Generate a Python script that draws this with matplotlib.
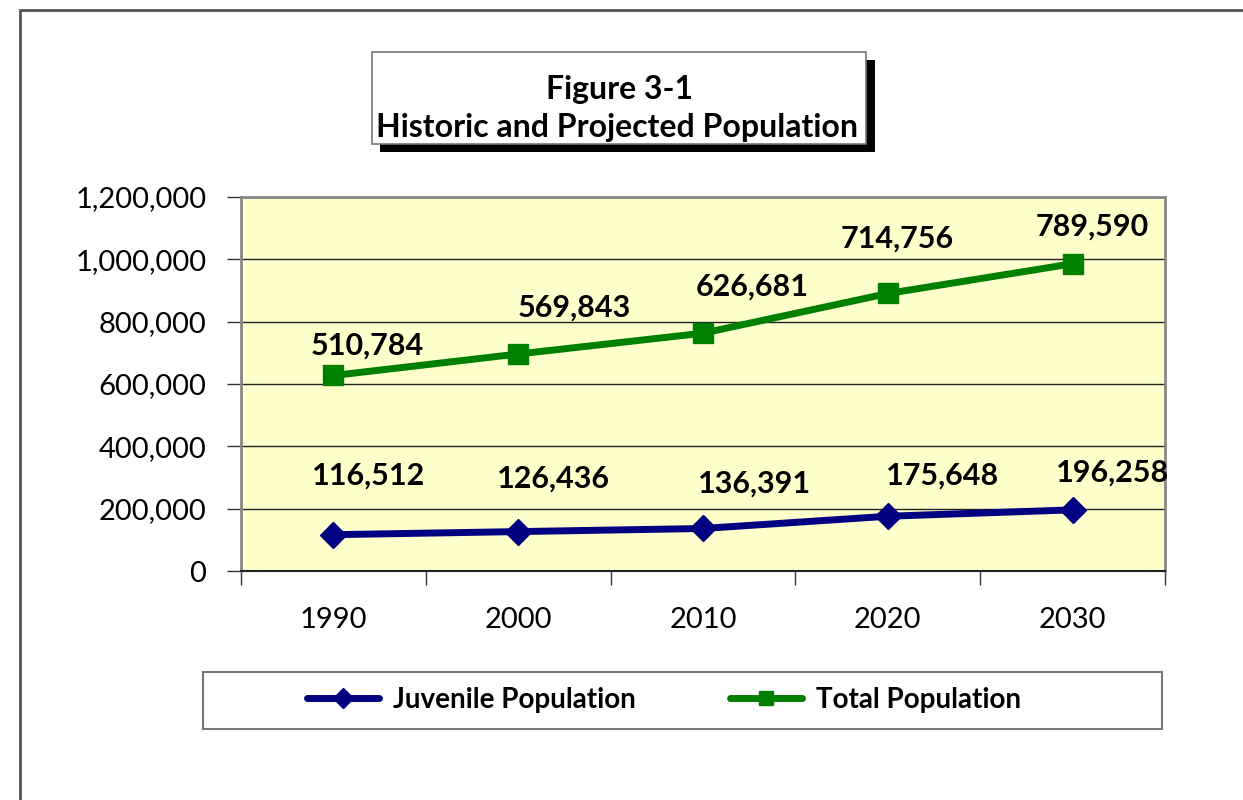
import matplotlib
matplotlib.use("Agg")
import matplotlib.pyplot as plt
import matplotlib.patches as patches
from matplotlib.ticker import FuncFormatter, FixedLocator

plt.rcParams['font.family'] = ['Lato', 'DejaVu Sans']

years = ['1990', '2000', '2010', '2020', '2030']
juvenile = [116512, 126436, 136391, 175648, 196258]
total = [510784, 569843, 626681, 714756, 789590]
y_ticks = [0, 200000, 400000, 600000, 800000, 1000000, 1200000]

# label nudges in pixels (dx, dy) from each marker
juv_offsets = [(35, 59), (35, 53), (52, 45), (55, 41), (40, 37)]
tot_offsets = [(34, 30), (56, 46), (49, 47), (9, 55), (20, 37)]

W, H = 1243, 800
fig = plt.figure(figsize=(W / 100, H / 100), dpi=100)


def fx(x):
    return x / W


def fy(y):
    return 1 - y / H


# outer frame, runs off the right and bottom edges
fig.patches.append(patches.Rectangle((fx(20), fy(900)), fx(1400), fy(10) - fy(900),
                                     transform=fig.transFigure, fill=False,
                                     edgecolor='#555555', linewidth=2))

# title box with drop shadow
fig.patches.append(patches.Rectangle((fx(380), fy(152)), fx(495), fy(60) - fy(152),
                                     transform=fig.transFigure, facecolor='black',
                                     edgecolor='none'))
fig.patches.append(patches.Rectangle((fx(372), fy(144)), fx(494), fy(52) - fy(144),
                                     transform=fig.transFigure, facecolor='white',
                                     edgecolor='#777777', linewidth=1.2))
fig.text(fx(619), fy(90), 'Figure 3-1', ha='center', va='center',
         fontsize=23, fontweight='bold')
fig.text(fx(617), fy(128), 'Historic and Projected Population', ha='center',
         va='center', fontsize=23, fontweight='bold')

ax = fig.add_axes([fx(241), fy(571), fx(924), fy(197) - fy(571)])
ax.set_facecolor('#FFFFCC')

x = list(range(len(years)))
stacked = [j + t for j, t in zip(juvenile, total)]

ax.plot(x, juvenile, color='#000080', linewidth=5, marker='D', markersize=13,
        solid_joinstyle='round', solid_capstyle='round', label='Juvenile Population',
        zorder=3)
ax.plot(x, stacked, color='#008000', linewidth=5, marker='s', markersize=14,
        solid_joinstyle='round', solid_capstyle='round', label='Total Population',
        zorder=3)

for i in x:
    ax.annotate(f'{juvenile[i]:,}', (i, juvenile[i]), xytext=juv_offsets[i],
                textcoords='offset pixels', ha='center', va='center',
                fontsize=22, fontweight='bold', zorder=4, annotation_clip=False)
    ax.annotate(f'{total[i]:,}', (i, stacked[i]), xytext=tot_offsets[i],
                textcoords='offset pixels', ha='center', va='center',
                fontsize=22, fontweight='bold', zorder=4, annotation_clip=False)

ax.set_xlim(-0.5, len(years) - 0.5)
ax.set_ylim(0, 1200000)
ax.set_yticks(y_ticks)
ax.yaxis.set_major_formatter(FuncFormatter(lambda v, p: f'{v:,.0f}'))
ax.yaxis.grid(True, color='#222222', linewidth=1)
ax.set_axisbelow(True)

# category labels centred, tick marks between categories
ax.xaxis.set_major_locator(FixedLocator([i - 0.5 for i in range(len(years) + 1)]))
ax.xaxis.set_minor_locator(FixedLocator(x))
ax.set_xticklabels([])
ax.set_xticklabels(years, minor=True)
ax.tick_params(axis='x', which='major', length=10, width=1, color='#333333')
ax.tick_params(axis='x', which='minor', length=0, pad=26, labelsize=21)
ax.tick_params(axis='y', length=10, width=1, color='#333333', pad=15, labelsize=21)

for s in ax.spines.values():
    s.set_color('#888888')
    s.set_linewidth(2)
ax.spines['bottom'].set_color('#222222')
ax.spines['bottom'].set_linewidth(1.5)

# legend box
fig.patches.append(patches.Rectangle((fx(203), fy(729)), fx(959), fy(672) - fy(729),
                                     transform=fig.transFigure, facecolor='white',
                                     edgecolor='#777777', linewidth=1.5))
handles, labels = ax.get_legend_handles_labels()
leg = fig.legend(handles, labels, loc='center', bbox_to_anchor=(fx(664), fy(700)),
                 ncol=2, frameon=False, handlelength=2.6, handletextpad=0.5,
                 columnspacing=3.4, markerscale=0.75,
                 prop={'size': 20, 'weight': 'bold'})

fig.savefig('out.png', dpi=100)
